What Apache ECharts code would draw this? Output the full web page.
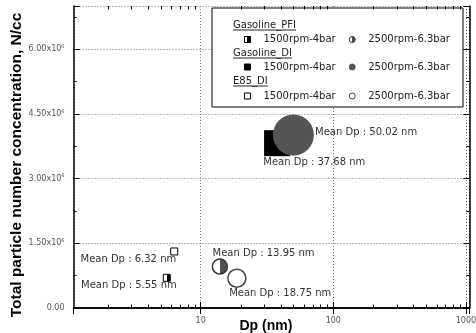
<!DOCTYPE html>
<html>
<head>
<meta charset="utf-8">
<script src="https://cdn.jsdelivr.net/npm/echarts@6/dist/echarts.min.js"></script>
<style>html,body{margin:0;padding:0;background:#fff;}#c{width:476px;height:333px;}</style>
</head>
<body>
<div id="c"></div>
<script>
// ---- data ----
const groups = ['Gasoline_PFI', 'Gasoline_DI', 'E85_DI'];
const conditions = ['1500rpm-4bar', '2500rpm-6.3bar'];
// mean particle diameter (nm), per group, per condition
const meanDp = [[5.55, 13.95], [37.68, 50.02], [6.32, 18.75]];
// total particle number concentration (N/cc)
const concentration = [[0.70e6, 0.96e6], [3.82e6, 4.01e6], [1.31e6, 0.69e6]];
const xMinorTicks = [2, 3, 4, 5, 6, 7, 8, 9, 20, 30, 40, 50, 60, 70, 80, 90, 200, 300, 400, 500, 600, 700, 800, 900];

// ---- styles ----
const X_MIN = 1.1, X_MAX = 1060, Y_MIN = 0, Y_MAX = 7e6, Y_INT = 1.5e6;
const FONT = 'DejaVu Sans';
const half = (c) => new echarts.graphic.LinearGradient(0, 0, 1, 0, [
  {offset: 0, color: '#fff'}, {offset: 0.5, color: '#fff'},
  {offset: 0.5, color: c}, {offset: 1, color: c}]);
const markStyle = [
  [ {symbol: 'rect', size: 7, color: half('#000'), border: '#000', bw: 1, align: 'right', offset: [10, 8]},
    {symbol: 'circle', size: 15, color: half('#505050'), border: '#333', bw: 1.5, align: 'left', offset: [-7.3, -12.7]} ],
  [ {symbol: 'rect', size: 26, color: '#000', border: '#000', bw: 0, align: 'left', offset: [-13.8, 19.6]},
    {symbol: 'circle', size: 41, color: '#555', border: '#555', bw: 0, align: 'left', offset: [21.7, -2.8]} ],
  [ {symbol: 'rect', size: 7, color: '#fff', border: '#000', bw: 1, align: 'right', offset: [2, 7.6]},
    {symbol: 'circle', size: 18, color: '#fff', border: '#444', bw: 1.5, align: 'left', offset: [-7.7, 15]} ]
];
const legendRows = [39.5, 67, 96];
const headerRows = [25, 53, 81];

const chart = echarts.init(document.getElementById('c'), null, {renderer: 'canvas'});

const series = [];
groups.forEach((g, gi) => {
  conditions.forEach((c, ci) => {
    const st = markStyle[gi][ci];
    series.push({
      name: g + ' ' + c,
      type: 'scatter',
      symbol: st.symbol,
      symbolSize: st.size,
      data: [[meanDp[gi][ci], concentration[gi][ci]]],
      itemStyle: {color: st.color, borderColor: st.border, borderWidth: st.bw, opacity: 1},
      label: {
        show: true, position: 'inside', align: st.align, verticalAlign: 'middle',
        offset: st.offset,
        formatter: (p) => 'Mean Dp : ' + p.value[0].toFixed(2) + ' nm',
        fontFamily: FONT, fontSize: 10, color: '#333'
      },
      emphasis: {disabled: true},
      z: 3
    });
  });
});

const axisLine = {show: true, lineStyle: {color: '#000', width: 1.5}};
const gridLine = {show: true, lineStyle: {color: '#777', type: [1, 2], width: 1}};

// canvas text measure for underlines
const mctx = document.createElement('canvas').getContext('2d');
mctx.font = '10px ' + FONT;

const graphic = [{
  type: 'rect', z: 1, silent: true,
  shape: {x: 212, y: 8, width: 251, height: 99},
  style: {fill: '#fff', stroke: '#000', lineWidth: 1}
}];
groups.forEach((g, gi) => {
  const w = mctx.measureText(g).width;
  graphic.push({type: 'text', z: 2, silent: true, x: 233, y: headerRows[gi],
    style: {text: g, font: '10px ' + FONT, fill: '#222', verticalAlign: 'middle'}});
  graphic.push({type: 'line', z: 2, silent: true,
    shape: {x1: 233, y1: headerRows[gi] + 5, x2: 233 + w, y2: headerRows[gi] + 5},
    style: {stroke: '#222', lineWidth: 1}});
});

const option = {
  backgroundColor: '#fff',
  animation: false,
  grid: {left: 73.5, right: 6.7, top: 6, bottom: 25, containLabel: false, outerBoundsMode: 'none'},
  xAxis: [{
    type: 'log', min: X_MIN, max: X_MAX, logBase: 10, position: 'bottom',
    name: 'Dp (nm)', nameLocation: 'middle', nameGap: 11, nameMoveOverlap: false,
    nameTextStyle: {fontFamily: 'Liberation Sans', fontWeight: 'bold', fontSize: 14, color: '#000', padding: [0, 11, 0, 0]},
    axisLine: axisLine,
    axisTick: {show: true, inside: true, length: 6, lineStyle: {color: '#000', width: 1}},
    axisLabel: {show: true, margin: 9, fontFamily: FONT, fontSize: 8, color: '#555',
      showMinLabel: false, showMaxLabel: false, hideOverlap: false,
      formatter: (v) => String(Math.round(v))},
    splitLine: gridLine,
    minorTick: {show: false}
  }, {
    type: 'log', min: X_MIN, max: X_MAX, logBase: 10, position: 'top',
    axisLine: axisLine,
    axisTick: {show: true, inside: true, length: 6, lineStyle: {color: '#000', width: 1}},
    axisLabel: {show: false}, splitLine: {show: false}
  }],
  yAxis: [{
    type: 'value', min: Y_MIN, max: Y_MAX, interval: Y_INT,
    name: 'Total particle number concentration, N/cc', nameLocation: 'middle', nameGap: 49, nameRotate: 90,
    nameMoveOverlap: false,
    nameTextStyle: {fontFamily: 'Liberation Sans', fontWeight: 'bold', fontSize: 15.5, color: '#000', padding: [0, 16, 0, 0]},
    axisLine: axisLine,
    axisTick: {show: true, inside: true, length: 6, lineStyle: {color: '#000', width: 1}},
    minorTick: {show: true, splitNumber: 2, length: 3, lineStyle: {color: '#000', width: 1}},
    axisLabel: {show: true, margin: 9, showMaxLabel: false,
      formatter: (v) => v === 0 ? '{m|0.00}' : '{m|' + (v / 1e6).toFixed(2) + 'x10}{s|6}',
      rich: {m: {fontFamily: FONT, fontSize: 8, color: '#555'},
             s: {fontFamily: FONT, fontSize: 5, color: '#555', verticalAlign: 'top', padding: [0, 0, 5, 0]}}},
    splitLine: gridLine
  }, {
    type: 'value', min: Y_MIN, max: Y_MAX, interval: Y_INT, position: 'right',
    axisLine: axisLine,
    axisTick: {show: true, inside: true, length: 6, lineStyle: {color: '#000', width: 1}},
    minorTick: {show: true, splitNumber: 2, length: 3, lineStyle: {color: '#000', width: 1}},
    axisLabel: {show: false}, splitLine: {show: false}
  }],
  legend: groups.map((g, gi) => ({
    data: conditions.map(c => g + ' ' + c),
    left: 244, top: legendRows[gi] - 6,
    orient: 'horizontal', padding: 0,
    itemWidth: 6, itemHeight: 6, itemGap: 13,
    selectedMode: false,
    itemStyle: {borderWidth: 1},
    formatter: (name) => name.slice(g.length + 1),
    textStyle: {fontFamily: FONT, fontSize: 10, color: '#222', lineHeight: 12, padding: [0, 0, 0, 8]}
  })),
  graphic: graphic,
  series: series
};
chart.setOption(option);

// minor ticks of the log axes (2..9 per decade), positioned through the chart's own x scale
const tickGraphics = [];
xMinorTicks.forEach((v) => {
  const b = chart.convertToPixel({xAxisIndex: 0, yAxisIndex: 0}, [v, Y_MIN]);
  const t = chart.convertToPixel({xAxisIndex: 0, yAxisIndex: 0}, [v, Y_MAX]);
  if (!b || !t) return;
  const x = Math.round(b[0]) + 0.5;
  tickGraphics.push({type: 'line', z: 10, silent: true,
    shape: {x1: x, y1: b[1], x2: x, y2: b[1] - 3.5}, style: {stroke: '#000', lineWidth: 1}});
  tickGraphics.push({type: 'line', z: 10, silent: true,
    shape: {x1: x, y1: t[1], x2: x, y2: t[1] + 3.5}, style: {stroke: '#000', lineWidth: 1}});
});
chart.setOption({graphic: graphic.concat(tickGraphics)});
</script>
</body>
</html>
